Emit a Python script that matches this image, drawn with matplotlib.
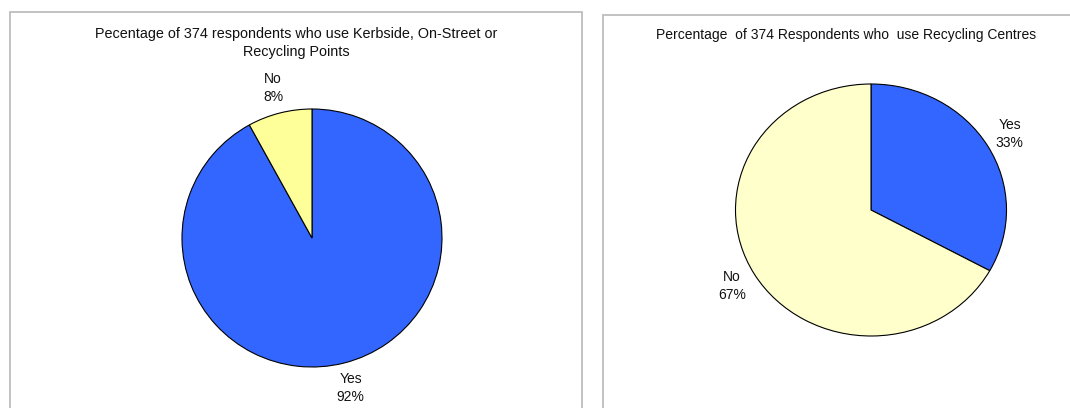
import matplotlib
matplotlib.use("Agg")
import matplotlib.pyplot as plt
from matplotlib.patches import Rectangle

W, H = 1070, 408

# survey answers, 374 respondents
answers = ["Yes", "No"]
kerbside_pct = [92, 8]
centres_pct = [33, 67]

kerbside_title = "Pecentage of 374 respondents who use Kerbside, On-Street or\nRecycling Points"
centres_title = "Percentage  of 374 Respondents who  use Recycling Centres"

BLUE = "#3366FF"
YELLOW = "#FFFF99"
PALE = "#FFFFCC"
FRAME = "#BDBDBD"
INK = "#111111"

plt.rcParams["font.family"] = ["Liberation Sans", "DejaVu Sans"]
plt.rcParams["font.size"] = 10

fig = plt.figure(figsize=(W / 100, H / 100), dpi=100)


def px_axes(x0, y0, x1, y1):
    """Axes from pixel box (top-left origin)."""
    return fig.add_axes([x0 / W, 1 - y1 / H, (x1 - x0) / W, (y1 - y0) / H])


def frame(x0, y0, x1, y1):
    fig.patches.append(Rectangle((x0 / W, 1 - y1 / H), (x1 - x0) / W, (y1 - y0) / H,
                                 transform=fig.transFigure, fill=False,
                                 edgecolor=FRAME, lw=1.3, clip_on=False))


def draw_pie(ax, values, colors, dist):
    labels = [f"{a}\n{v}%" for a, v in zip(answers, values)]
    wedges, texts = ax.pie(values, labels=labels, colors=colors, startangle=90,
                           counterclock=False, labeldistance=dist,
                           wedgeprops=dict(edgecolor="black", linewidth=0.8),
                           textprops=dict(color=INK, fontsize=10, linespacing=1.35))
    for t in texts:
        t.set_ha("center")
        t.set_va("center")
    ax.set_xlim(-1, 1)
    ax.set_ylim(-1, 1)
    ax.set_aspect("auto")
    ax.axis("off")


# panel frames (cut off at the image edge)
frame(10, 12, 582, H + 10)
frame(603, 15, W + 10, H + 10)

ax1 = px_axes(182, 109, 442, 367)
draw_pie(ax1, kerbside_pct, [BLUE, YELLOW], 1.2)
fig.text(296 / W, 1 - 43 / H, kerbside_title, ha="center", va="center",
         color=INK, fontsize=10.4, linespacing=1.4)

ax2 = px_axes(735.5, 84, 1006.5, 336)
draw_pie(ax2, centres_pct, [BLUE, PALE], 1.19)
fig.text(846 / W, 1 - 34.5 / H, centres_title, ha="center", va="center",
         color=INK, fontsize=10)

fig.savefig("out.png", dpi=100, facecolor="white")
